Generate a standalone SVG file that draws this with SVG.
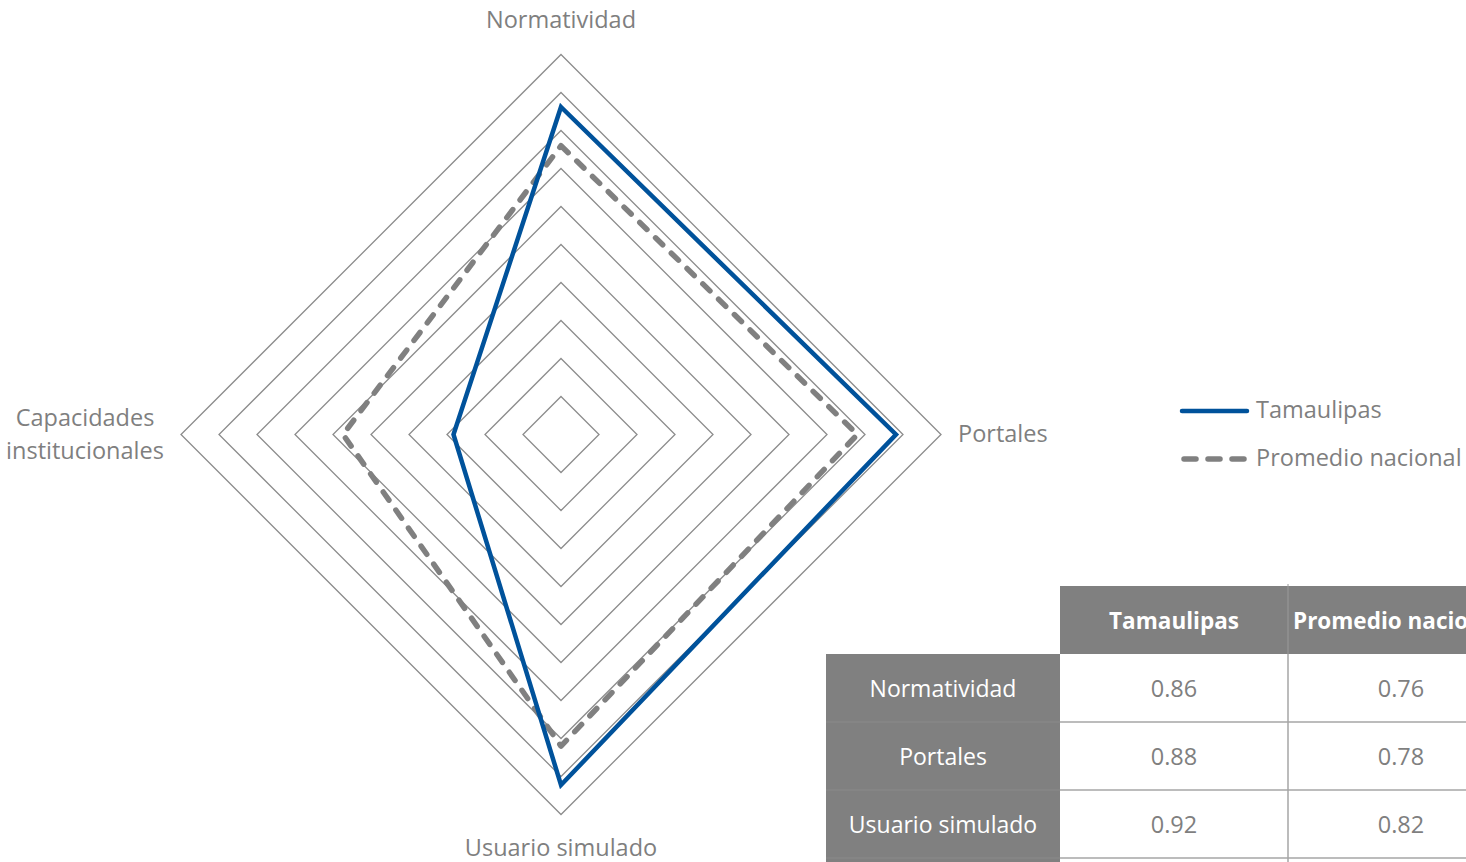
<svg xmlns="http://www.w3.org/2000/svg" width="1466" height="862" viewBox="0 0 1466 862">
<style>
.ring{fill:none;stroke:#8c8c8c;stroke-width:1.3}
.lbl{font-family:"Open Sans","Noto Sans",sans-serif;font-size:23.5px;fill:#7f7f7f}
.tam{fill:none;stroke:#00529b;stroke-width:4.5;stroke-linejoin:miter}
.avg{fill:none;stroke:#808080;stroke-width:5.5;stroke-dasharray:10 12;stroke-linecap:round;stroke-linejoin:round}
.cellg{fill:#808080}
.tline{stroke:#a6a6a6;stroke-width:1.5}
.tw{font-family:"Open Sans","Noto Sans",sans-serif;font-size:23px;fill:#ffffff;text-anchor:middle}
.th{font-family:"Open Sans","Noto Sans",sans-serif;font-size:22.5px;font-weight:bold;fill:#ffffff}
.tv{font-family:"Open Sans","Noto Sans",sans-serif;font-size:23.5px;fill:#7f7f7f;text-anchor:middle}
</style>
<rect width="1466" height="862" fill="#ffffff"/>
<g id="grid">
<polygon class="ring" points="561,396.5 599,434.5 561,472.5 523,434.5"/>
<polygon class="ring" points="561,358.5 637,434.5 561,510.5 485,434.5"/>
<polygon class="ring" points="561,320.5 675,434.5 561,548.5 447,434.5"/>
<polygon class="ring" points="561,282.5 713,434.5 561,586.5 409,434.5"/>
<polygon class="ring" points="561,244.5 751,434.5 561,624.5 371,434.5"/>
<polygon class="ring" points="561,206.5 789,434.5 561,662.5 333,434.5"/>
<polygon class="ring" points="561,168.5 827,434.5 561,700.5 295,434.5"/>
<polygon class="ring" points="561,130.5 865,434.5 561,738.5 257,434.5"/>
<polygon class="ring" points="561,92.5 903,434.5 561,776.5 219,434.5"/>
<polygon class="ring" points="561,54.5 941,434.5 561,814.5 181,434.5"/>
</g>
<g id="axis-labels">
<text class="lbl" x="561" y="28" text-anchor="middle">Normatividad</text>
<text class="lbl" x="958" y="442">Portales</text>
<text class="lbl" x="561" y="856" text-anchor="middle">Usuario simulado</text>
<text class="lbl" x="85" y="426" text-anchor="middle">Capacidades</text>
<text class="lbl" x="85" y="459" text-anchor="middle">institucionales</text>
</g>
<g id="series">
<polygon id="series-promedio" class="avg" points="561,145.7 857.4,434.5 561,746.1 343,434.5"/>
<polygon id="series-tamaulipas" class="tam" points="561,107 896,434.5 561,785 453.5,434.5"/>
</g>
<g id="legend">
<line x1="1182" y1="411" x2="1247" y2="411" stroke="#00529b" stroke-width="4.5" stroke-linecap="round"/>
<text class="lbl" x="1256" y="418">Tamaulipas</text>
<line x1="1184" y1="459" x2="1247" y2="459" stroke="#808080" stroke-width="5.5" stroke-linecap="round" stroke-dasharray="12 12"/>
<text class="lbl" x="1256" y="466">Promedio nacional</text>
</g>
<g id="table">
<rect class="cellg" x="1060" y="586" width="406" height="68"/>
<rect class="cellg" x="826" y="654" width="234" height="208"/>
<line x1="1288" y1="584" x2="1288" y2="654" stroke="#9a9a9a" stroke-width="1"/>
<line class="tline" x1="1060" y1="722" x2="1466" y2="722"/>
<line class="tline" x1="1060" y1="790" x2="1466" y2="790"/>
<line class="tline" x1="1060" y1="858" x2="1466" y2="858"/>
<line class="tline" x1="1288" y1="654" x2="1288" y2="862"/>
<line x1="826" y1="722" x2="1060" y2="722" stroke="#8a8a8a" stroke-width="1"/>
<line x1="826" y1="790" x2="1060" y2="790" stroke="#8a8a8a" stroke-width="1"/>
<line x1="826" y1="858" x2="1060" y2="858" stroke="#8a8a8a" stroke-width="1"/>
<text class="th" x="1174" y="629" text-anchor="middle">Tamaulipas</text>
<text class="th" x="1293" y="629" text-anchor="start">Promedio nacional</text>
<text class="tw" x="943" y="697">Normatividad</text>
<text class="tw" x="943" y="765">Portales</text>
<text class="tw" x="943" y="833">Usuario simulado</text>
<text class="tv" x="1174" y="697">0.86</text>
<text class="tv" x="1401" y="697">0.76</text>
<text class="tv" x="1174" y="765">0.88</text>
<text class="tv" x="1401" y="765">0.78</text>
<text class="tv" x="1174" y="833">0.92</text>
<text class="tv" x="1401" y="833">0.82</text>
</g>
</svg>
